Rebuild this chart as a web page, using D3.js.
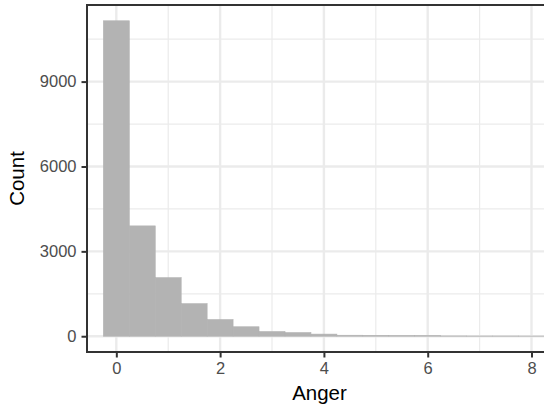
<!DOCTYPE html>
<html>
<head>
<meta charset="utf-8">
<script src="https://cdn.jsdelivr.net/npm/d3@7"></script>
<style>
  body { margin: 0; background: #fff; }
  .axes-font text { font-family: "Liberation Sans", Arial, sans-serif; font-size: 16.5px; fill: #4D4D4D; }
  .title { font-family: "Liberation Sans", Arial, sans-serif; font-size: 20.5px; fill: #000; }
</style>
</head>
<body>
<div id="vis1"></div>
<script>
// histogram bins (centres) and counts, bin width 0.5
const BIN_CENTERS = [0, 0.5, 1, 1.5, 2, 2.5, 3, 3.5, 4, 4.5, 5, 5.5, 6, 6.5, 7, 7.5, 8, 8.5];
const COUNTS = [11150, 3900, 2070, 1150, 590, 335, 165, 130, 75, 35, 30, 25, 25, 10, 8, 8, 6, 5];
const BIN_WIDTH = 0.5;
const X_TICKS = [0, 2, 4, 6, 8];
const X_MINOR = [1, 3, 5, 7];
const Y_TICKS = [0, 3000, 6000, 9000];
const Y_MINOR = [1500, 4500, 7500, 10500];

const FRAME_WIDTH = 544;
const FRAME_HEIGHT = 409;
const PANEL = {left: 87, right: 552, top: 5, bottom: 352};

const FRAME1 = d3.select("#vis1")
                  .append("svg")
                  .attr("width", FRAME_WIDTH)
                  .attr("height", FRAME_HEIGHT);

const X_Scale = d3.scaleLinear()
                  .domain([-0.565, 8.395])
                  .range([PANEL.left, PANEL.right]);
const Y_Scale = d3.scaleLinear()
                  .domain([-0.05 * 11150, 1.05 * 11150])
                  .range([PANEL.bottom, PANEL.top]);

// gridlines
const grid = FRAME1.append("g");
grid.selectAll(".ymin").data(Y_MINOR).enter().append("line")
    .attr("x1", PANEL.left).attr("x2", PANEL.right)
    .attr("y1", d => Y_Scale(d)).attr("y2", d => Y_Scale(d))
    .attr("stroke", "#EBEBEB").attr("stroke-width", 1.2);
grid.selectAll(".xmin").data(X_MINOR).enter().append("line")
    .attr("y1", PANEL.top).attr("y2", PANEL.bottom)
    .attr("x1", d => X_Scale(d)).attr("x2", d => X_Scale(d))
    .attr("stroke", "#EBEBEB").attr("stroke-width", 1.2);
grid.selectAll(".ymaj").data(Y_TICKS).enter().append("line")
    .attr("x1", PANEL.left).attr("x2", PANEL.right)
    .attr("y1", d => Y_Scale(d)).attr("y2", d => Y_Scale(d))
    .attr("stroke", "#EBEBEB").attr("stroke-width", 2.4);
grid.selectAll(".xmaj").data(X_TICKS).enter().append("line")
    .attr("y1", PANEL.top).attr("y2", PANEL.bottom)
    .attr("x1", d => X_Scale(d)).attr("x2", d => X_Scale(d))
    .attr("stroke", "#EBEBEB").attr("stroke-width", 2.4);

// bars (a thin stroke of the same grey hides seams between neighbours)
FRAME1.selectAll(".bar")
      .data(BIN_CENTERS)
      .enter().append("rect")
      .attr("class", "bar")
      .attr("x", d => X_Scale(d - BIN_WIDTH / 2))
      .attr("width", d => X_Scale(d + BIN_WIDTH / 2) - X_Scale(d - BIN_WIDTH / 2))
      .attr("y", (d, i) => Y_Scale(COUNTS[i]))
      .attr("height", (d, i) => Y_Scale(0) - Y_Scale(COUNTS[i]))
      .attr("fill", "#B3B3B3")
      .attr("stroke", "#B3B3B3")
      .attr("stroke-width", 0.6);

// panel border
FRAME1.append("rect")
      .attr("x", PANEL.left).attr("y", PANEL.top)
      .attr("width", PANEL.right - PANEL.left)
      .attr("height", PANEL.bottom - PANEL.top)
      .attr("fill", "none")
      .attr("stroke", "#333333")
      .attr("stroke-width", 2);

// axes
const xAxis = FRAME1.append("g")
      .attr("transform", "translate(0," + PANEL.bottom + ")")
      .attr("class", "axes-font")
      .call(d3.axisBottom(X_Scale).tickValues(X_TICKS).tickSize(5.5).tickPadding(5).tickFormat(d3.format("d")));
const yAxis = FRAME1.append("g")
      .attr("transform", "translate(" + PANEL.left + ",0)")
      .attr("class", "axes-font")
      .call(d3.axisLeft(Y_Scale).tickValues(Y_TICKS).tickSize(5.5).tickPadding(5).tickFormat(d3.format("d")));
[xAxis, yAxis].forEach(a => {
  a.select(".domain").remove();
  a.selectAll(".tick line").attr("stroke", "#333333").attr("stroke-width", 2);
});

// titles
FRAME1.append("text")
      .attr("class", "title")
      .attr("x", (PANEL.left + PANEL.right) / 2)
      .attr("y", 400)
      .attr("text-anchor", "middle")
      .text("Anger");
FRAME1.append("text")
      .attr("class", "title")
      .attr("transform", "translate(23.5," + (PANEL.top + PANEL.bottom) / 2 + ") rotate(-90)")
      .attr("text-anchor", "middle")
      .text("Count");
</script>
</body>
</html>
